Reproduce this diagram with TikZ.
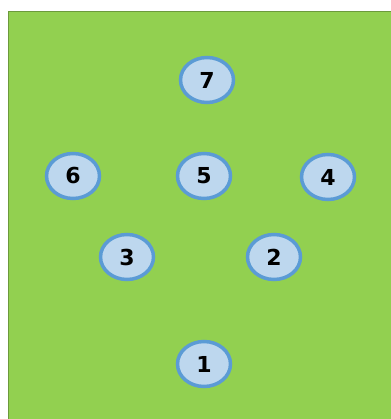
\documentclass[tikz,border=0pt]{standalone}
\usetikzlibrary{shapes.geometric}
\usepackage{fontspec}
\setmainfont{DejaVu Sans}
\definecolor{bggreen}{HTML}{92D050}
\definecolor{bgedge}{HTML}{6C9A3C}
\definecolor{cfill}{HTML}{BDD7EE}
\definecolor{cedge}{HTML}{5B9BD5}
\begin{document}
\begin{tikzpicture}[x=1pt,y=-1pt,
  num/.style={ellipse, draw=cedge, fill=cfill, line width=3.5pt,
    minimum width=53pt, minimum height=45pt, inner sep=0pt,
    font=\fontsize{22}{22}\selectfont\bfseries, text=black}]
\useasboundingbox (0,0) rectangle (390,419);
\fill[white] (0,0) rectangle (390,419);
\draw[fill=bggreen, draw=bgedge, line width=1.2pt] (8.6,11.6) rectangle (392,421);
\node[num] (n7) at (207,80) {7};
\node[num] (n6) at (73,176) {6};
\node[num] (n5) at (204,176) {5};
\node[num] (n4) at (328,177) {4};
\node[num] (n3) at (127,257) {3};
\node[num] (n2) at (274,257) {2};
\node[num] (n1) at (204,364) {1};
\end{tikzpicture}
\end{document}
